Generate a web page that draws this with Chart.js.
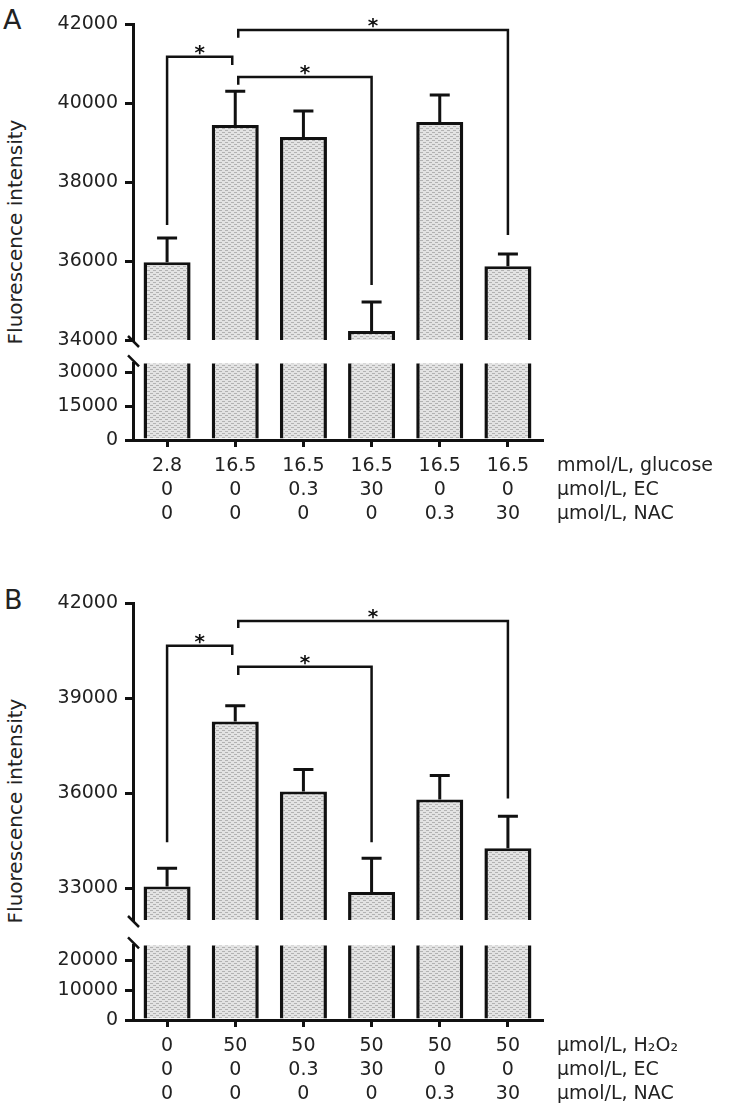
<!DOCTYPE html>
<html>
<head>
<meta charset="utf-8">
<script src="https://cdn.jsdelivr.net/npm/chart.js@4.4.1/dist/chart.umd.min.js"></script>
<style>
  html, body { margin: 0; padding: 0; background: #fff; }
  body { width: 729px; height: 1116px; position: relative; overflow: hidden;
         font-family: 'DejaVu Sans', sans-serif; color: #222; }
  .box { position: absolute; left: 0; width: 729px; }
  .panel { position: absolute; font-size: 27px; line-height: 1; }
  .ytitle { position: absolute; font-size: 20px; white-space: nowrap;
            transform: translate(-50%, -50%) rotate(-90deg); }
</style>
</head>
<body>
<div class="panel" style="left:3px;top:6px">A</div>
<div class="ytitle" style="left:15px;top:232px">Fluorescence intensity</div>
<div class="box" style="top:0;height:360px"><canvas id="aTop"></canvas></div>
<div class="box" style="top:345px;height:185px"><canvas id="aBot"></canvas></div>

<div class="panel" style="left:4px;top:586px">B</div>
<div class="ytitle" style="left:15px;top:811px">Fluorescence intensity</div>
<div class="box" style="top:570px;height:370px"><canvas id="bTop"></canvas></div>
<div class="box" style="top:927px;height:183px"><canvas id="bBot"></canvas></div>

<script>
// category rows under the bars
const GLUCOSE = ["2.8", "16.5", "16.5", "16.5", "16.5", "16.5"];
const H2O2 = ["0", "50", "50", "50", "50", "50"];
const EC_DOSE = ["0", "0", "0.3", "30", "0", "0"];
const NAC_DOSE = ["0", "0", "0", "0", "0.3", "30"];
const ROWS_A = ["mmol/L, glucose", "µmol/L, EC", "µmol/L, NAC"];
const ROWS_B = ["µmol/L, H₂O₂", "µmol/L, EC", "µmol/L, NAC"];

// fluorescence intensity, mean and SD
const MEAN_A = [35970, 39440, 39140, 34230, 39520, 35870];
const SD_A = [610, 860, 660, 730, 680, 310];
const MEAN_B = [33060, 38260, 36050, 32880, 35800, 34260];
const SD_B = [570, 500, 700, 1070, 760, 1010];

// broken axis: [min, max] of each segment and its ticks
const RANGE_A_TOP = [34000, 42000];
const RANGE_A_BOT = [0, 34000];
const TICKS_A_TOP = [34000, 36000, 38000, 40000, 42000];
const TICKS_A_BOT = [0, 15000, 30000];
const RANGE_B_TOP = [32000, 42000];
const RANGE_B_BOT = [0, 25000];
const TICKS_B_TOP = [33000, 36000, 39000, 42000];
const TICKS_B_BOT = [0, 10000, 20000];

// significance brackets: [from bar, to bar, top, left leg end, right leg end]
const SIG_A = [[0, 1, 41170, 36910, 40960], [1, 3, 40660, 40460, 35390], [1, 5, 41850, 41650, 36660]];
const SIG_B = [[0, 1, 40650, 34450, 40360], [1, 3, 39990, 39730, 34450], [1, 5, 41430, 41210, 35830]];
const SIG_NUDGE = [[0, -3], [3, 0], [3, 0]];

Chart.defaults.font.family = "'DejaVu Sans', sans-serif";
Chart.defaults.font.size = 19;
Chart.defaults.color = "#222";

const INK = "#111";

function dotFill(ctx) {
  const c = document.createElement("canvas");
  c.width = 6;
  c.height = 4;
  const g = c.getContext("2d");
  g.fillStyle = "#e3e3e3";
  g.fillRect(0, 0, 6, 4);
  g.fillStyle = "#b2b2b2";
  g.fillRect(0, 0, 3, 1);
  g.fillRect(3, 2, 3, 1);
  return ctx.createPattern(c, "repeat");
}

const errorBars = {
  id: "errorBars",
  afterDatasetsDraw(chart, args, o) {
    if (!o.sd) return;
    const ctx = chart.ctx;
    const y = chart.scales.y;
    const mean = chart.data.datasets[0].data;
    ctx.save();
    ctx.strokeStyle = INK;
    ctx.lineWidth = 3;
    chart.getDatasetMeta(0).data.forEach((bar, i) => {
      const y0 = y.getPixelForValue(mean[i]);
      const y1 = y.getPixelForValue(mean[i] + o.sd[i]);
      ctx.beginPath();
      ctx.moveTo(bar.x, y0);
      ctx.lineTo(bar.x, y1);
      ctx.moveTo(bar.x - 10, y1);
      ctx.lineTo(bar.x + 10, y1);
      ctx.stroke();
    });
    ctx.restore();
  },
};

const brackets = {
  id: "brackets",
  afterDraw(chart, args, o) {
    if (!o.sig) return;
    const ctx = chart.ctx;
    const x = chart.scales.x;
    const y = chart.scales.y;
    ctx.save();
    ctx.strokeStyle = INK;
    ctx.fillStyle = INK;
    ctx.lineWidth = 2.5;
    ctx.font = "bold 20px 'DejaVu Sans'";
    ctx.textAlign = "center";
    ctx.textBaseline = "alphabetic";
    o.sig.forEach((s, k) => {
      const xl = x.getPixelForValue(s[0]) + SIG_NUDGE[k][0];
      const xr = x.getPixelForValue(s[1]) + SIG_NUDGE[k][1];
      const yt = y.getPixelForValue(s[2]);
      ctx.beginPath();
      ctx.moveTo(xl, y.getPixelForValue(s[3]));
      ctx.lineTo(xl, yt);
      ctx.lineTo(xr, yt);
      ctx.lineTo(xr, y.getPixelForValue(s[4]));
      ctx.stroke();
      ctx.fillText("*", (xl + xr) / 2, yt + 2);
    });
    ctx.restore();
  },
};

const breakMarks = {
  id: "breakMarks",
  afterDraw(chart, args, o) {
    const ctx = chart.ctx;
    const a = chart.chartArea;
    const yb = o.part === "top" ? a.bottom - 4 : a.top - 8;
    ctx.save();
    ctx.strokeStyle = INK;
    ctx.lineWidth = 2.5;
    ctx.beginPath();
    ctx.moveTo(a.left - 5, yb);
    ctx.lineTo(a.left + 6, yb + 11);
    ctx.stroke();
    ctx.restore();
  },
};

const rowNames = {
  id: "rowNames",
  afterDraw(chart, args, o) {
    if (!o.rows) return;
    const x = chart.scales.x;
    const item = x.getLabelItems()[0];
    const lh = item.font.lineHeight;
    const y0 = item.options.translation[1] + item.textOffset;
    const ctx = chart.ctx;
    ctx.save();
    ctx.fillStyle = "#222";
    ctx.font = "19px 'DejaVu Sans'";
    ctx.textAlign = "left";
    ctx.textBaseline = "middle";
    o.rows.forEach((r, i) => ctx.fillText(r, chart.chartArea.right + 15, y0 + i * lh));
    ctx.restore();
  },
};

function segment(id, cfg) {
  const top = cfg.part === "top";
  const ctx = document.getElementById(id).getContext("2d");
  const labels = cfg.first.map((v, i) => [v, EC_DOSE[i], NAC_DOSE[i]]);
  return new Chart(ctx, {
    type: "bar",
    data: {
      labels: labels,
      datasets: [
        {
          data: cfg.mean,
          backgroundColor: dotFill(ctx),
          borderColor: INK,
          borderWidth: { top: top ? 3 : 0, left: 3.5, right: 3.5, bottom: 0 },
          borderSkipped: false,
          barPercentage: 0.69,
          categoryPercentage: 1,
          clip: 0,
        },
      ],
    },
    options: {
      responsive: true,
      maintainAspectRatio: false,
      animation: false,
      events: [],
      layout: { padding: { left: 0, right: 187, top: cfg.padTop, bottom: top ? 20 : 0 } },
      plugins: {
        legend: { display: false },
        tooltip: { enabled: false },
        errorBars: { sd: top ? cfg.sd : null },
        brackets: { sig: top ? cfg.sig : null },
        breakMarks: { part: cfg.part },
        rowNames: { rows: top ? null : cfg.rows },
      },
      scales: {
        x: {
          display: !top,
          offset: true,
          grid: { offset: false, drawOnChartArea: false, tickLength: 7, lineWidth: 3, color: INK },
          border: { color: INK, width: 3 },
          ticks: { padding: 7, maxRotation: 0, autoSkip: false, font: { size: 19, lineHeight: 24 / 19 } },
          afterFit(s) { s.height = top ? 0 : 90; },
        },
        y: {
          min: cfg.range[0],
          max: cfg.range[1],
          afterBuildTicks(s) { s.ticks = cfg.ticks.map((v) => ({ value: v })); },
          afterFit(s) { s.width = 133; },
          grid: { drawOnChartArea: false, tickLength: 8, lineWidth: 3, color: INK },
          border: { color: INK, width: 3 },
          ticks: { padding: 7, callback: (v) => String(v) },
        },
      },
    },
    plugins: [errorBars, brackets, breakMarks, rowNames],
  });
}

segment("aTop", { part: "top", first: GLUCOSE, mean: MEAN_A, sd: SD_A, range: RANGE_A_TOP, ticks: TICKS_A_TOP, sig: SIG_A, padTop: 24 });
segment("aBot", { part: "bot", first: GLUCOSE, mean: MEAN_A, range: RANGE_A_BOT, ticks: TICKS_A_BOT, rows: ROWS_A, padTop: 15 });
segment("bTop", { part: "top", first: H2O2, mean: MEAN_B, sd: SD_B, range: RANGE_B_TOP, ticks: TICKS_B_TOP, sig: SIG_B, padTop: 33 });
segment("bBot", { part: "bot", first: H2O2, mean: MEAN_B, range: RANGE_B_BOT, ticks: TICKS_B_BOT, rows: ROWS_B, padTop: 15 });
</script>
</body>
</html>
